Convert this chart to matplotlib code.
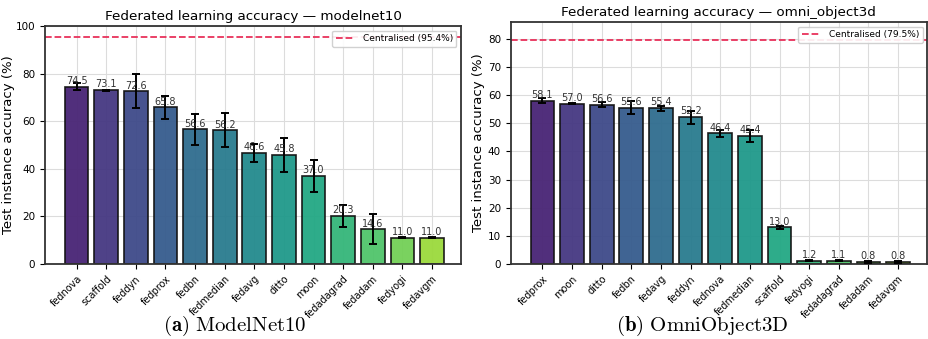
import numpy as np
import matplotlib
matplotlib.use('Agg')
from matplotlib import pyplot as plt

plt.rcParams['mathtext.fontset'] = 'cm'

# ModelNet10 results
mn_methods = ['fednova', 'scaffold', 'feddyn', 'fedprox', 'fedbn', 'fedmedian', 'fedavg',
              'ditto', 'moon', 'fedadagrad', 'fedadam', 'fedyogi', 'fedavgm']
mn_acc = [74.5, 73.1, 72.6, 65.8, 56.6, 56.2, 46.6, 45.8, 37.0, 20.3, 14.6, 11.0, 11.0]
mn_std = [1.4, 0.2, 7.1, 4.7, 6.4, 7.1, 3.8, 7.2, 6.6, 4.6, 6.3, 0.2, 0.2]
mn_central = 95.4

# OmniObject3D results
oo_methods = ['fedprox', 'moon', 'ditto', 'fedbn', 'fedavg', 'feddyn', 'fednova',
              'fedmedian', 'scaffold', 'fedyogi', 'fedadagrad', 'fedadam', 'fedavgm']
oo_acc = [58.1, 57.0, 56.6, 55.6, 55.4, 52.2, 46.4, 45.4, 13.0, 1.2, 1.1, 0.8, 0.8]
oo_std = [1.0, 0.3, 0.8, 2.4, 0.9, 2.3, 1.2, 2.1, 0.4, 0.2, 0.2, 0.3, 0.3]
oo_central = 79.5


def plot_panel(ax, dataset, methods, acc, std, central, ylim, yticks, label_x):
    x = np.arange(len(methods))
    colors = plt.cm.viridis(np.linspace(0.1, 0.85, len(methods)))
    ax.grid(True, color='#dcdcdc', linewidth=0.8, zorder=0)
    ax.set_axisbelow(True)
    ax.bar(x, acc, width=0.8, color=colors, edgecolor='#111111', linewidth=1.2,
           alpha=0.95, zorder=2)
    ax.errorbar(x, acc, yerr=std, fmt='none', ecolor='black', elinewidth=1.4,
                capsize=3, capthick=1.4, zorder=3)
    for xi, v in zip(x, acc):
        ax.text(xi, v + 0.3, f'{v:.1f}', ha='center', va='bottom', fontsize=7,
                color='#333333', zorder=4)
    ax.axhline(central, color='#e8315b', linestyle='--', linewidth=1.3,
               label=f'Centralised ({central:.1f}%)', zorder=1)
    ax.set_xticks(x)
    ax.set_xticklabels(methods, rotation=45, ha='right', rotation_mode='anchor',
                       fontsize=7)
    ax.set_xlim(-1.07, len(methods) - 0.02)
    ax.set_ylim(*ylim)
    ax.set_yticks(yticks)
    ax.tick_params(axis='y', labelsize=7.5)
    ax.set_ylabel('Test instance accuracy (%)', fontsize=9.5)
    ax.yaxis.set_label_coords(label_x, 0.5)
    ax.set_title(f'Federated learning accuracy \u2014 {dataset}', fontsize=9.7, pad=4)
    ax.legend(loc='upper right', fontsize=6.5, framealpha=0.9, borderpad=0.4,
              handlelength=2.2)
    for s in ax.spines.values():
        s.set_linewidth(1.3)
        s.set_color('#333333')


fig = plt.figure(figsize=(9.29, 3.39), dpi=100)
ax1 = fig.add_axes([0.0484, 0.2212, 0.4478, 0.7021])
ax2 = fig.add_axes([0.5497, 0.2212, 0.4483, 0.7139])

plot_panel(ax1, 'modelnet10', mn_methods, mn_acc, mn_std, mn_central,
           (0, 100), range(0, 101, 20), -0.072)
plot_panel(ax2, 'omni_object3d', oo_methods, oo_acc, oo_std, oo_central,
           (0, 86), range(0, 81, 10), -0.062)

fig.text(0.253, 0.04, r'$\mathbf{(a)}\ \mathrm{ModelNet10}$', ha='center',
         va='center', fontsize=15)
fig.text(0.756, 0.04, r'$\mathbf{(b)}\ \mathrm{OmniObject3D}$', ha='center',
         va='center', fontsize=15)

fig.savefig('out.png', dpi=100)
